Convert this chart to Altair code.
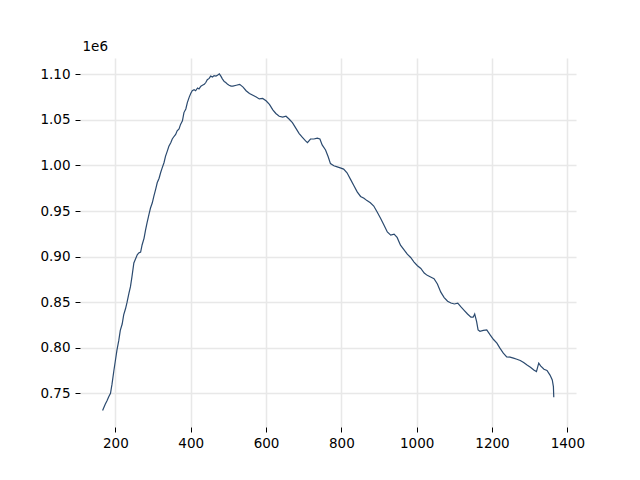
import altair as alt
import pandas as pd

# x positions (data units)
xs = [166, 173, 178, 182, 187, 191, 196, 200, 204, 209, 213, 218, 222, 227, 231, 236, 240, 244, 249, 252,
      258, 262, 267, 271, 276, 280, 284, 289, 293, 298, 302, 307, 311, 316, 320, 324, 329, 333, 338, 342,
      347, 351, 356, 360, 364, 369, 373, 378, 382, 387, 391, 396, 400, 404, 409, 413, 418, 422, 427, 431,
      436, 440, 444, 449, 453, 458, 462, 467, 471, 476, 480, 484, 489, 493, 498, 502, 507, 512, 521, 530,
      539, 547, 556, 565, 574, 582, 591, 600, 609, 618, 626, 635, 644, 653, 661, 670, 679, 688, 696, 705,
      710, 718, 727, 736, 743, 749, 758, 765, 771, 780, 789, 797, 806, 815, 824, 833, 842, 851, 860, 868,
      877, 886, 895, 904, 913, 922, 931, 940, 948, 957, 966, 975, 984, 993, 1002, 1011, 1020, 1028, 1037, 1046,
      1055, 1064, 1073, 1082, 1091, 1100, 1109, 1117, 1126, 1135, 1144, 1150, 1154, 1159, 1163, 1168, 1177, 1186, 1195, 1204,
      1213, 1221, 1230, 1239, 1248, 1257, 1266, 1275, 1284, 1293, 1302, 1311, 1318, 1324, 1329, 1338, 1346, 1354, 1360, 1363,
      1364]

# values in units of 1e6
ys = [0.731, 0.738, 0.742, 0.746, 0.750, 0.760, 0.775, 0.786, 0.797, 0.808, 0.819, 0.826, 0.836, 0.843, 0.850, 0.860, 0.867, 0.878, 0.893, 0.896,
      0.902, 0.904, 0.905, 0.913, 0.920, 0.929, 0.937, 0.946, 0.953, 0.959, 0.966, 0.974, 0.981, 0.986, 0.992, 0.997, 1.003, 1.010, 1.016, 1.021,
      1.025, 1.029, 1.032, 1.034, 1.038, 1.040, 1.045, 1.049, 1.058, 1.062, 1.069, 1.075, 1.079, 1.082, 1.083, 1.082, 1.085, 1.084, 1.087, 1.088,
      1.089, 1.091, 1.094, 1.0955, 1.098, 1.097, 1.0985, 1.098, 1.099, 1.1005, 1.098, 1.095, 1.092, 1.091, 1.089, 1.088, 1.087, 1.087, 1.088, 1.089,
      1.086, 1.082, 1.079, 1.077, 1.075, 1.073, 1.0735, 1.071, 1.067, 1.061, 1.057, 1.054, 1.053, 1.054, 1.051, 1.047, 1.041, 1.035, 1.031, 1.027,
      1.025, 1.029, 1.029, 1.030, 1.029, 1.0225, 1.017, 1.0096, 1.002, 0.9996, 0.9985, 0.9974, 0.996, 0.992, 0.985, 0.978, 0.971, 0.966, 0.964, 0.9614,
      0.959, 0.9555, 0.949, 0.942, 0.9346, 0.927, 0.9235, 0.9246, 0.921, 0.9125, 0.9077, 0.9026, 0.899, 0.894, 0.890, 0.887, 0.882, 0.8794, 0.8776, 0.8758,
      0.870, 0.861, 0.855, 0.851, 0.849, 0.848, 0.849, 0.845, 0.841, 0.837, 0.8335, 0.8335, 0.837, 0.829, 0.8196, 0.818, 0.819, 0.8196, 0.814, 0.809,
      0.805, 0.7995, 0.794, 0.790, 0.7896, 0.7885, 0.7874, 0.786, 0.7837, 0.781, 0.7786, 0.7756, 0.7738, 0.783, 0.780, 0.7764, 0.775, 0.770, 0.7647, 0.7573,
      0.7456]

x_ticks = [200, 400, 600, 800, 1000, 1200, 1400]
y_ticks = [0.75, 0.80, 0.85, 0.90, 0.95, 1.00, 1.05, 1.10]

df = pd.DataFrame({"x": xs, "y": ys, "i": list(range(len(xs)))})

FONT = "DejaVu Sans"

chart = alt.Chart(df).mark_line(color="#2b4a6f", strokeWidth=1.2).encode(
    x=alt.X("x:Q", scale=alt.Scale(domain=[106, 1423], nice=False, zero=False),
            axis=alt.Axis(values=x_ticks, title=None, format="d")),
    y=alt.Y("y:Q", scale=alt.Scale(domain=[0.7130, 1.1179], nice=False, zero=False),
            axis=alt.Axis(values=y_ticks, format=".2f", title="1e6", titleAngle=0,
                          titleX=2, titleY=-5, titleAlign="left", titleBaseline="bottom",
                          titleFont=FONT, titleFontSize=13.5, titleFontWeight="normal",
                          titleColor="black")),
    order="i:Q",
).properties(
    width=496, height=369,
    autosize=alt.AutoSizeParams(type="none"),
    padding={"left": 72, "top": 50, "right": 40, "bottom": 30},
).configure_view(
    stroke=None
).configure_axis(
    domain=False,
    grid=True,
    gridColor="#e8e8e8",
    gridWidth=1.5,
    tickColor="black",
    tickSize=5,
    tickWidth=1,
    labelFont=FONT,
    labelFontSize=13.5,
    labelColor="black",
    labelPadding=5,
).configure_axisX(
    labelPadding=4,
)

chart.save("out.html", embed_options={"renderer": "svg", "actions": False})
